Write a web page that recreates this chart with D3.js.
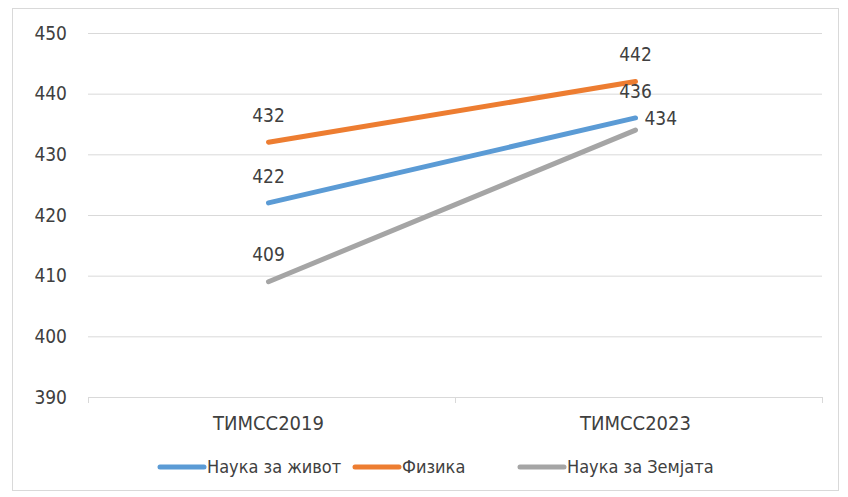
<!DOCTYPE html>
<html>
<head>
<meta charset="utf-8">
<script src="https://cdn.jsdelivr.net/npm/d3@7"></script>
<style>
  body { margin: 0; background: #fff; }
  text { font-family: "DejaVu Sans Condensed", "DejaVu Sans", sans-serif; fill: #404040; }
</style>
</head>
<body>
<svg></svg>
<script>
// chart data
const categories = ["ТИМСС2019", "ТИМСС2023"];
const seriesNames = ["Наука за живот", "Физика", "Наука за Земјата"];
const lifeScience = [422, 436];
const physics = [432, 442];
const earthScience = [409, 434];
const yTicks = [390, 400, 410, 420, 430, 440, 450];

const colors = ["#5b9bd5", "#ed7d31", "#a5a5a5"];

const width = 848, height = 497;
const svg = d3.select('svg').attr('width', width).attr('height', height);

// outer frame
svg.append('rect')
  .attr('x', 12.5).attr('y', 8.5)
  .attr('width', 826).attr('height', 482)
  .attr('fill', '#fff').attr('stroke', '#d9d9d9');

const plotLeft = 88, plotRight = 822, plotTop = 33, plotBottom = 397;

const x = d3.scaleBand().domain(categories).range([plotLeft, plotRight]);
const y = d3.scaleLinear().domain([390, 450]).range([plotBottom, plotTop]);

// gridlines
svg.append('g').selectAll('line')
  .data(yTicks)
  .join('line')
    .attr('x1', plotLeft).attr('x2', plotRight)
    .attr('y1', (d) => y(d) + 0.5).attr('y2', (d) => y(d) + 0.5)
    .attr('stroke', '#d9d9d9');

// y labels
svg.append('g').selectAll('text')
  .data(yTicks)
  .join('text')
    .attr('x', 67).attr('y', (d) => y(d))
    .attr('dy', '0.35em')
    .attr('text-anchor', 'end')
    .style('font-size', '19px')
    .text((d) => d);

// x axis ticks
const ticks = [plotLeft, plotLeft + x.bandwidth(), plotRight];
svg.append('g').selectAll('line')
  .data(ticks)
  .join('line')
    .attr('x1', (d) => d + 0.5).attr('x2', (d) => d + 0.5)
    .attr('y1', plotBottom).attr('y2', plotBottom + 6)
    .attr('stroke', '#d9d9d9');

svg.append('g').selectAll('text')
  .data(categories)
  .join('text')
    .attr('x', (d) => x(d) + x.bandwidth() / 2 - 3)
    .attr('y', 430)
    .attr('text-anchor', 'middle')
    .style('font-size', '20px')
    .text((d) => d);

// series
const series = [
  { name: seriesNames[0], values: lifeScience, color: colors[0] },
  { name: seriesNames[1], values: physics, color: colors[1] },
  { name: seriesNames[2], values: earthScience, color: colors[2] }
];

const cx = (i) => x(categories[i]) + x.bandwidth() / 2 - 3;

const line = d3.line()
  .x((d, i) => cx(i))
  .y((d) => y(d));

svg.append('g').selectAll('path')
  .data(series)
  .join('path')
    .attr('d', (d) => line(d.values))
    .attr('fill', 'none')
    .attr('stroke', (d) => d.color)
    .attr('stroke-width', 5)
    .attr('stroke-linecap', 'round');

// data labels; the 434 one sits to the right like in the picture
const labels = [];
series.forEach((s, si) => {
  s.values.forEach((v, i) => {
    const rightSide = (si === 2 && i === 1);
    labels.push({ v, i, rightSide });
  });
});

svg.append('g').selectAll('text')
  .data(labels)
  .join('text')
    .attr('x', (d) => d.rightSide ? cx(d.i) + 9 : cx(d.i))
    .attr('y', (d) => d.rightSide ? y(d.v) - 12 : y(d.v) - 27)
    .attr('text-anchor', (d) => d.rightSide ? 'start' : 'middle')
    .attr('dy', '0.35em')
    .style('font-size', '19px')
    .text((d) => d.v);

// legend
const legendX = [160, 355, 520];
const lg = svg.append('g').selectAll('g')
  .data(series)
  .join('g')
    .attr('transform', (d, i) => `translate(${legendX[i]},467)`);

lg.append('line')
  .attr('x1', 0).attr('x2', 44)
  .attr('stroke', (d) => d.color)
  .attr('stroke-width', 5)
  .attr('stroke-linecap', 'round');

lg.append('text')
  .attr('x', 47)
  .attr('dy', '0.35em')
  .style('font-size', '18px')
  .text((d) => d.name);
</script>
</body>
</html>
